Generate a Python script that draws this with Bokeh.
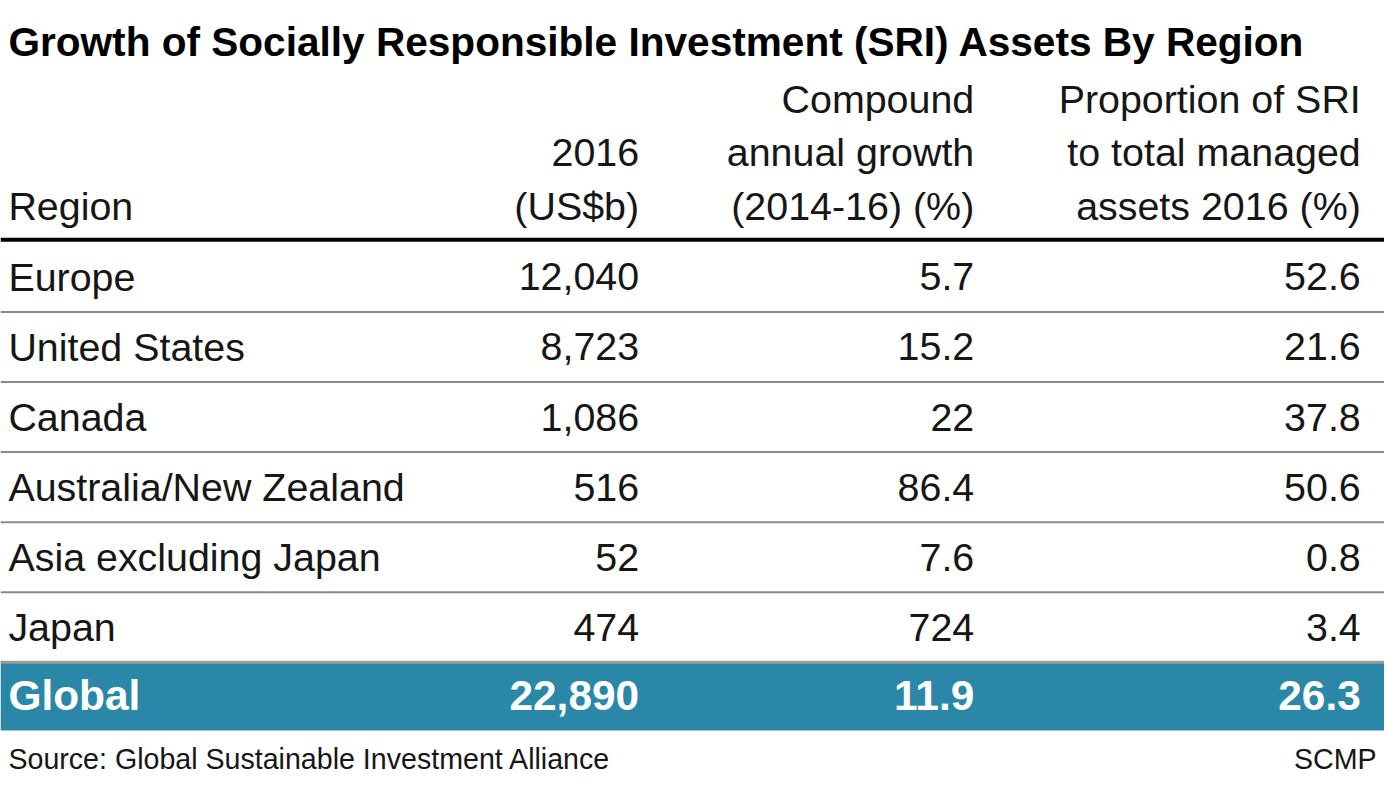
from bokeh.plotting import figure
from bokeh.models import Range1d, ColumnDataSource
from bokeh.core.properties import value
from bokeh.embed import file_html
from bokeh.resources import INLINE

# ---- data ----
title = "Growth of Socially Responsible Investment (SRI) Assets By Region"
col_headers = [
    ["Region"],
    ["2016", "(US$b)"],
    ["Compound", "annual growth", "(2014-16) (%)"],
    ["Proportion of SRI", "to total managed", "assets 2016 (%)"],
]
regions = ["Europe", "United States", "Canada", "Australia/New Zealand",
           "Asia excluding Japan", "Japan"]
assets_2016 = ["12,040", "8,723", "1,086", "516", "52", "474"]
cagr_2014_16 = ["5.7", "15.2", "22", "86.4", "7.6", "724"]
sri_share_2016 = ["52.6", "21.6", "37.8", "50.6", "0.8", "3.4"]
total_row = ["Global", "22,890", "11.9", "26.3"]
source_note = "Source: Global Sustainable Investment Alliance"
credit = "SCMP"

# ---- layout: drawn in the 1400x802 reference frame, fitted to 1384x786 ----
RW, RH = 1400, 802
W, H = 1384, 786
S = 0.985  # font scale


def fs(px):
    return f"{px * S:.1f}px"


FONT = value("Liberation Sans")
TXT = "#161616"
BAND = "#2a87a8"
col_x = [8, 646, 985, 1376]
col_align = ["left", "right", "right", "right"]
row_y0, row_dy = 282, 71.5
hdr_line_y = [100, 155, 210]

p = figure(width=W, height=H, output_backend="svg", toolbar_location=None,
           x_range=Range1d(0, RW), y_range=Range1d(RH, 0),
           min_border=0, outline_line_color=None)
p.axis.visible = False
p.grid.visible = False
p.background_fill_color = "white"
p.border_fill_color = "white"

# title
p.text(x=[8], y=[42], text=[title], text_font=FONT, text_font_style="bold",
       text_font_size=fs(41.2), text_color="#000000", text_baseline="alphabetic",
       text_align="left")

# headers
for ci, lines in enumerate(col_headers):
    n = len(lines)
    ys = hdr_line_y[3 - n:]
    p.text(x=[col_x[ci]] * n, y=ys, text=lines, text_font=FONT,
           text_font_size=fs(40), text_color=TXT, text_baseline="middle",
           text_align=col_align[ci])

# rules
p.segment(x0=[0], x1=[RW], y0=[244], y1=[244], line_color="#000000", line_width=4)
nrows = len(regions)
sep_y = [row_y0 + row_dy * (i + 0.5) for i in range(nrows - 1)]
p.segment(x0=[0] * len(sep_y), x1=[RW] * len(sep_y), y0=sep_y, y1=sep_y,
          line_color="#8a8a8a", line_width=2)

# band for total row
band_top = row_y0 + row_dy * (nrows - 0.5)
band_bot = band_top + row_dy - 2
p.quad(left=[0], right=[RW], top=[band_top], bottom=[band_bot],
       fill_color=BAND, line_color=None)
p.segment(x0=[0], x1=[RW], y0=[band_top], y1=[band_top],
          line_color="#9a9a9a", line_width=3)

# body rows
ys = [row_y0 + row_dy * i for i in range(nrows)]
for ci, col in enumerate([regions, assets_2016, cagr_2014_16, sri_share_2016]):
    src = ColumnDataSource(dict(x=[col_x[ci]] * nrows, y=ys, t=col))
    p.text(x="x", y="y", text="t", source=src, text_font=FONT,
           text_font_size=fs(40), text_color=TXT, text_baseline="middle",
           text_align=col_align[ci])

# total row
gy = row_y0 + row_dy * nrows - 2
p.text(x=col_x, y=[gy] * 4, text=total_row, text_font=FONT,
       text_font_style="bold", text_font_size=fs(43), text_color="white",
       text_baseline="middle", text_align=col_align)

# footer
p.text(x=[8], y=[774], text=[source_note], text_font=FONT, text_font_size=fs(29),
       text_color=TXT, text_baseline="middle", text_align="left")
p.text(x=[1392], y=[774], text=[credit], text_font=FONT, text_font_size=fs(29),
       text_color=TXT, text_baseline="middle", text_align="right")

open("out.html", "w").write(file_html(p, INLINE))
